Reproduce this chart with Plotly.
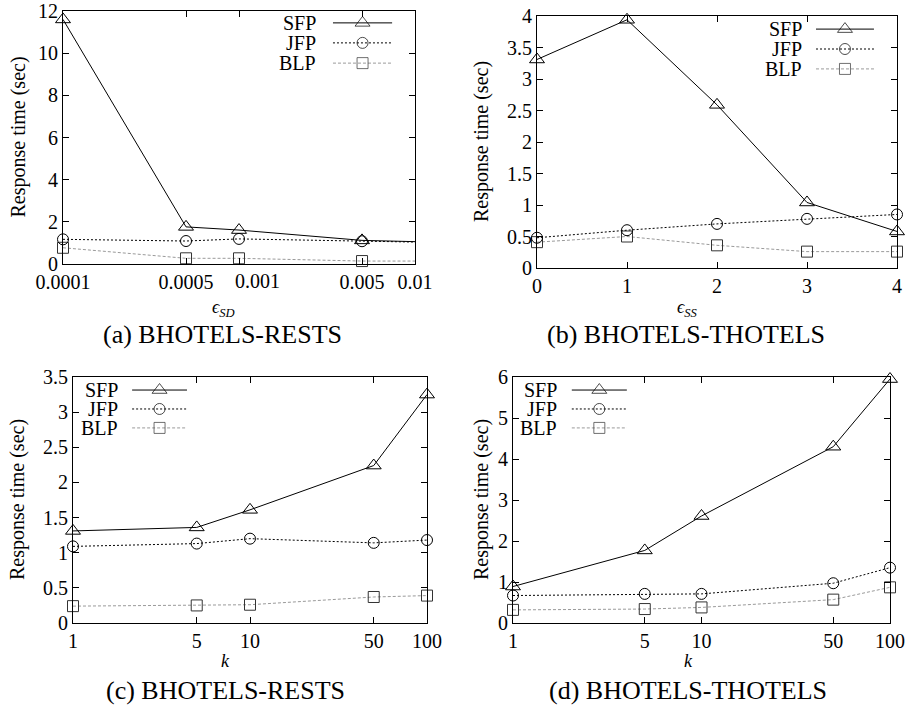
import math
import plotly.graph_objects as go

# ---- data -------------------------------------------------------------
eps_sd = [0.0001, 0.0005, 0.001, 0.005, 0.01]
eps_sd_labels = ["0.0001", "0.0005", "0.001", "0.005", "0.01"]
a_sfp = [11.6, 1.76, 1.61, 1.12, 1.06]
a_jfp = [1.17, 1.09, 1.19, 1.08, 1.04]
a_blp = [0.77, 0.27, 0.27, 0.14, 0.14]

eps_ss = [0, 1, 2, 3, 4]
b_sfp = [3.31, 3.94, 2.59, 1.04, 0.58]
b_jfp = [0.48, 0.60, 0.70, 0.78, 0.85]
b_blp = [0.41, 0.50, 0.36, 0.26, 0.26]

k_vals = [1, 5, 10, 50, 100]
k_labels = ["1", "5", "10", "50", "100"]
c_sfp = [1.31, 1.36, 1.61, 2.24, 3.25]
c_jfp = [1.09, 1.13, 1.20, 1.14, 1.18]
c_blp = [0.24, 0.25, 0.26, 0.37, 0.39]

d_sfp = [0.89, 1.77, 2.61, 4.30, 5.95]
d_jfp = [0.67, 0.71, 0.71, 0.97, 1.35]
d_blp = [0.32, 0.34, 0.38, 0.57, 0.87]

series_names = ["SFP", "JFP", "BLP"]
captions = ["(a) BHOTELS-RESTS", "(b) BHOTELS-THOTELS",
            "(c) BHOTELS-RESTS", "(d) BHOTELS-THOTELS"]

# ---- styles -----------------------------------------------------------
W, H = 906, 710
SERIF = "Liberation Serif, Times New Roman, Times, serif"
TICK_FONT = dict(family=SERIF, size=20, color="black")
STYLES = {
    "SFP": dict(line=dict(color="black", width=1),
                marker=dict(symbol="triangle-up-open", size=13,
                            color="black", line=dict(width=1))),
    "JFP": dict(line=dict(color="black", width=1, dash="2px,2px"),
                marker=dict(symbol="circle-open", size=11,
                            color="black", line=dict(width=1))),
    "BLP": dict(line=dict(color="#9a9a9a", width=1, dash="3px,2px"),
                marker=dict(symbol="square-open", size=11,
                            color="#333333", line=dict(width=1))),
}

# panel boxes in pixels: (left, right, top, bottom)
boxes = [(63, 415, 11, 264), (537, 897, 16, 268),
         (73, 427, 377, 623), (513, 890, 377, 623)]


def dom_x(l, r):
    return [l / W, r / W]


def dom_y(t, b):
    return [1 - b / H, 1 - t / H]


fig = go.Figure()

# the 0.001 label of panel (a) sits a little right of its tick
shifted_label = {0: (2, 18)}   # panel index -> (tick index, x shift px)

panels = [
    dict(x=eps_sd, ys=[a_sfp, a_jfp, a_blp], xtype="log", xrange=[-4, -2],
         xtv=eps_sd, xtt=eps_sd_labels, yrange=[0, 12],
         ytv=[0, 2, 4, 6, 8, 10, 12], xtitle="<i>ϵ<sub>SD</sub></i>",
         legend=dict(tx=0.724, lx=(0.767, 0.935), ys=(0.953, 0.874, 0.794))),
    dict(x=eps_ss, ys=[b_sfp, b_jfp, b_blp], xtype="linear", xrange=[0, 4],
         xtv=eps_ss, xtt=[str(v) for v in eps_ss], yrange=[0, 4],
         ytv=[0, 0.5, 1, 1.5, 2, 2.5, 3, 3.5, 4],
         xtitle="<i>ϵ<sub>SS</sub></i>",
         legend=dict(tx=0.742, lx=(0.775, 0.936), ys=(0.948, 0.869, 0.790))),
    dict(x=k_vals, ys=[c_sfp, c_jfp, c_blp], xtype="log", xrange=[0, 2],
         xtv=k_vals, xtt=k_labels, yrange=[0, 3.5],
         ytv=[0, 0.5, 1, 1.5, 2, 2.5, 3, 3.5], xtitle="<i>k</i>",
         legend=dict(tx=0.133, lx=(0.167, 0.322), ys=(0.947, 0.870, 0.793))),
    dict(x=k_vals, ys=[d_sfp, d_jfp, d_blp], xtype="log", xrange=[0, 2],
         xtv=k_vals, xtt=k_labels, yrange=[0, 6],
         ytv=[0, 1, 2, 3, 4, 5, 6], xtitle="<i>k</i>",
         legend=dict(tx=0.122, lx=(0.156, 0.302), ys=(0.947, 0.870, 0.793))),
]

caption_pos = [(222, 334), (686, 334), (225, 690), (688, 690)]
xtitle_pos = [(223, 308), (687, 308), (225, 661), (688, 661)]
ylab_x = [18, 482, 18, 482]

layout = dict(width=W, height=H, margin=dict(l=0, r=0, t=0, b=0),
              paper_bgcolor="white", plot_bgcolor="white",
              showlegend=False, annotations=[])

for i, p in enumerate(panels):
    n = i + 1
    l, r, t, b = boxes[i]
    xa = "x" if n == 1 else f"x{n}"
    ya = "y" if n == 1 else f"y{n}"
    # overlay axes used for the in-panel legend key
    lxa, lya = f"x{n + 4}", f"y{n + 4}"

    ticktext = list(p["xtt"])
    if i in shifted_label:
        j, dx = shifted_label[i]
        xv = p["xtv"][j]
        layout["annotations"].append(dict(
            x=math.log10(xv) if p["xtype"] == "log" else xv,
            y=0, xref=xa, yref=f"{ya} domain", text=ticktext[j],
            showarrow=False, xanchor="center", yanchor="top",
            xshift=dx, yshift=-4, font=TICK_FONT))
        ticktext[j] = ""

    common = dict(showgrid=False, zeroline=False, showline=True,
                  linecolor="black", linewidth=1, mirror="allticks",
                  ticks="inside", ticklen=6, tickwidth=1, tickcolor="black",
                  tickfont=TICK_FONT, automargin=False, tickangle=0)
    layout[f"xaxis{'' if n == 1 else n}"] = dict(
        common, anchor=ya, domain=dom_x(l, r), type=p["xtype"],
        range=p["xrange"], tickmode="array", tickvals=p["xtv"],
        ticktext=ticktext)
    layout[f"yaxis{'' if n == 1 else n}"] = dict(
        common, anchor=xa, domain=dom_y(t, b), range=p["yrange"],
        tickmode="array", tickvals=p["ytv"],
        ticktext=[f"{v:g}" for v in p["ytv"]])
    layout[f"xaxis{n + 4}"] = dict(overlaying=xa, range=[0, 1],
                                   visible=False, anchor=lya,
                                   fixedrange=True)
    layout[f"yaxis{n + 4}"] = dict(overlaying=ya, range=[0, 1],
                                   visible=False, anchor=lxa,
                                   fixedrange=True)

    # data series (BLP first so SFP sits on top)
    for name, ys in reversed(list(zip(series_names, p["ys"]))):
        st = STYLES[name]
        fig.add_trace(go.Scatter(x=p["x"], y=ys, mode="lines+markers",
                                 name=name, line=st["line"],
                                 marker=st["marker"], xaxis=xa, yaxis=ya,
                                 cliponaxis=False, hoverinfo="skip"))

    # legend key: text on the left, line sample with a marker in the middle
    lg = p["legend"]
    x0, x1 = lg["lx"]
    for name, yy in zip(series_names, lg["ys"]):
        st = STYLES[name]
        msize = st["marker"]["size"]
        fig.add_trace(go.Scatter(
            x=[x0, (x0 + x1) / 2, x1], y=[yy, yy, yy], mode="lines+markers",
            line=st["line"],
            marker=dict(st["marker"], size=[0, msize, 0]),
            xaxis=lxa, yaxis=lya, hoverinfo="skip"))
        layout["annotations"].append(dict(
            x=lg["tx"], y=yy, xref=f"{xa} domain", yref=f"{ya} domain",
            text=name, showarrow=False, xanchor="right", yanchor="middle",
            font=TICK_FONT))

    # axis titles and caption
    layout["annotations"].append(dict(
        x=ylab_x[i] / W, y=1 - (t + b) / 2 / H, xref="paper", yref="paper",
        text="Response time (sec)", textangle=-90, showarrow=False,
        font=TICK_FONT, xanchor="center", yanchor="middle"))
    cx, cy = xtitle_pos[i]
    layout["annotations"].append(dict(
        x=cx / W, y=1 - cy / H, xref="paper", yref="paper",
        text=p["xtitle"], showarrow=False,
        font=dict(family=SERIF, size=18, color="black"),
        xanchor="center", yanchor="middle"))
    px_, py_ = caption_pos[i]
    layout["annotations"].append(dict(
        x=px_ / W, y=1 - py_ / H, xref="paper", yref="paper",
        text=captions[i], showarrow=False,
        font=dict(family=SERIF, size=26, color="black"),
        xanchor="center", yanchor="middle"))

fig.update_layout(**layout)
fig.write_html("out.html")
